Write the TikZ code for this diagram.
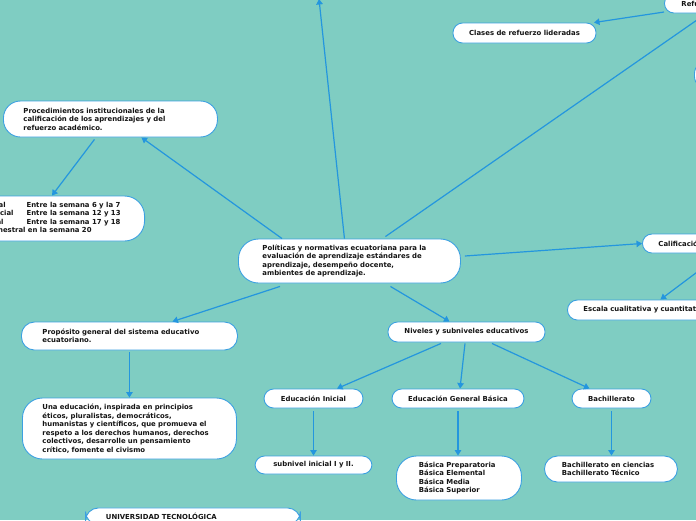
\documentclass[tikz,border=0pt]{standalone}
\usepackage{fontspec}
\newfontfamily\mapfont{DejaVu Sans}
\usetikzlibrary{arrows.meta}
\definecolor{bgteal}{RGB}{127,205,194}
\definecolor{linkblue}{RGB}{36,150,222}
\definecolor{boxblue}{RGB}{60,160,225}
\definecolor{inktext}{RGB}{20,20,20}
\tikzset{
  mbox/.style={draw=boxblue, fill=white, line width=0.9pt, text=inktext,
    font=\mapfont\bfseries\fontsize{6.9}{8.5}\selectfont, inner ysep=2pt},
  cbox/.style={mbox, align=center, rounded corners=9.5pt},
  lbox/.style={mbox, align=left, anchor=west},
  link/.style={draw=linkblue, line width=1.2pt, -{Triangle[length=5.5pt,width=6.5pt]}},
}
\begin{document}
\begin{tikzpicture}[x=1pt,y=-1pt]
\fill[bgteal] (0,0) rectangle (696,520);
\useasboundingbox (0,0) rectangle (696,520);
\clip (0,0) rectangle (696,520);

\node[lbox, text width=174pt, inner xsep=24pt, minimum height=44pt, rounded corners=20pt] (A) at (238,261)
  {Políticas y normativas ecuatoriana para la\\evaluación de aprendizaje estándares de\\aprendizaje, desempeño docente,\\ambientes de aprendizaje.};
\node[lbox, text width=174pt, inner xsep=20pt, minimum height=36pt, rounded corners=17pt] (B) at (3,119)
  {Procedimientos institucionales de la\\calificación de los aprendizajes y del\\refuerzo académico.};
\node[mbox, anchor=east, inner xsep=24pt, minimum height=45pt, rounded corners=20pt] (C) at (145,218.5)
  {\begin{tabular}{@{}l@{\hspace{13pt}}l@{}}Primer parcial & Entre la semana 6 y la 7\\ Segundo parcial & Entre la semana 12 y 13\\ Tercer parcial & Entre la semana 17 y 18\\ \multicolumn{2}{@{}l@{}}{Examen quimestral en la semana 20}\end{tabular}};
\node[lbox, text width=174pt, inner xsep=21pt, minimum height=28pt, rounded corners=13pt] (D) at (21,336)
  {Propósito general del sistema educativo\\ecuatoriano.};
\node[lbox, text width=174pt, inner xsep=20pt, minimum height=61pt, rounded corners=20pt] (E) at (22,428.5)
  {Una educación, inspirada en principios\\éticos, pluralistas, democráticos,\\humanistas y científicos, que promueva el\\respeto a los derechos humanos, derechos\\colectivos, desarrolle un pensamiento\\crítico, fomente el civismo};
\node[cbox, minimum width=157pt, minimum height=20pt] (F) at (466.5,332) {Niveles y subniveles educativos};
\node[cbox, minimum width=99pt, minimum height=19pt] (G) at (313.5,398.5) {Educación Inicial};
\node[cbox, minimum width=132pt, minimum height=19pt] (H) at (458,398.5) {Educación General Básica};
\node[cbox, minimum width=117pt, minimum height=18pt] (I) at (313.5,465) {subnivel inicial I y II.};
\node[lbox, text width=80pt, inner xsep=22.5pt, minimum height=44pt, rounded corners=20pt] (J) at (396,478)
  {Básica Preparatoria\\Básica Elemental\\Básica Media\\Básica Superior};
\node[cbox, minimum width=79pt, minimum height=19pt] (K) at (611.5,398.5) {Bachillerato};
\node[lbox, text width=98pt, inner xsep=17.5pt, minimum height=26pt, rounded corners=13pt] (L) at (544,469)
  {Bachillerato en ciencias\\Bachillerato Técnico};
\node[mbox, anchor=north west, align=left, text width=174pt, inner xsep=20.5pt, inner ysep=5pt, rounded corners=13pt] (M) at (85,507.5)
  {UNIVERSIDAD TECNOLÓGICA};
\node[cbox, minimum width=143pt, minimum height=20pt] (N) at (524.5,33) {Clases de refuerzo lideradas};
\node[lbox, inner xsep=17pt, minimum height=19pt, rounded corners=9.5pt] (O) at (664,3.5) {Refuerzo académico};
\node[mbox, anchor=west, minimum width=60pt, minimum height=30pt, rounded corners=14pt] (P) at (694,75) {};
\node[lbox, text width=128pt, inner xsep=16pt, minimum height=19pt, rounded corners=9.5pt] (Q) at (642,243.5) {Calificación};
\node[lbox, text width=154pt, inner xsep=16pt, minimum height=20pt, rounded corners=10pt] (R) at (567,310) {Escala cualitativa y cuantitativa};
\coordinate (up) at (319,-1);

\draw[link] ([xshift=-5pt]A.north) -- (up);
\draw[link] ([xshift=44pt]A.north west) -- ([xshift=31pt]B.south);
\draw[link] ([xshift=-16pt,yshift=-2pt]B.south) -- ([xshift=-93pt]C.north east);
\draw[link] ([xshift=36pt,yshift=2pt]A.north) -- (O);
\draw[link] (O) -- (N);
\draw[link] ([xshift=4pt,yshift=5pt]A.east) -- (Q.west);
\draw[link] ([xshift=80pt]Q.south west) -- (R.north);
\draw[link] ([xshift=42pt,yshift=-3pt]A.south west) -- ([xshift=43pt]D.north);
\draw[link] ([xshift=41pt,yshift=-3pt]A.south) -- ([xshift=-17pt]F.north);
\draw[link] ([yshift=-2pt]D.south) -- (E.north);
\draw[link] ([xshift=-25.5pt,yshift=-1pt]F.south) -- ([xshift=23.5pt]G.north);
\draw[link] ([xshift=-1.5pt,yshift=-1pt]F.south) -- ([xshift=2pt]H.north);
\draw[link] ([xshift=25.5pt,yshift=-1pt]F.south) -- ([xshift=-22pt]K.north);
\draw[link] ([yshift=-3pt]G.south) -- (I.north);
\draw[link] ([yshift=-3pt]H.south) -- (H.south |- J.north);
\draw[link] ([yshift=-3pt]K.south) -- (K.south |- L.north);
\end{tikzpicture}
\end{document}
